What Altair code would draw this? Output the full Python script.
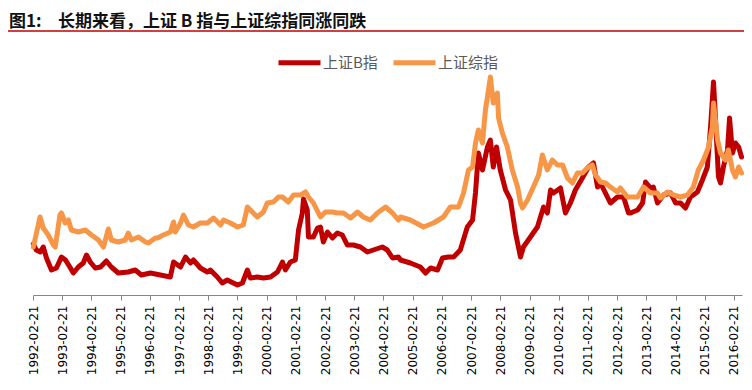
import altair as alt
import pandas as pd

# ---- text ----
title_no = "图1:"
title_text = "长期来看，上证 B 指与上证综指同涨同跌"
series_names = ["上证B指", "上证综指"]
series_colors = ["#C00000", "#F79646"]

# ---- 上证B指 (decimal year, relative level) ----
b_years = [1992.15, 1992.25, 1992.39, 1992.49, 1992.60, 1992.77, 1992.94, 1993.11, 1993.25, 1993.42,
           1993.52, 1993.69, 1993.86, 1993.97, 1994.10, 1994.27, 1994.45, 1994.65, 1994.82, 1995.06,
           1995.40, 1995.64, 1995.85, 1996.16, 1996.50, 1996.84, 1996.95, 1997.19, 1997.36, 1997.53,
           1997.63, 1997.87, 1998.11, 1998.21, 1998.45, 1998.62, 1998.79, 1999.14, 1999.31, 1999.48,
           1999.58, 1999.82, 2000.03, 2000.27, 2000.51, 2000.68, 2000.78, 2000.95, 2001.12, 2001.23,
           2001.36, 2001.40, 2001.53, 2001.57, 2001.74, 2001.88, 2001.98, 2002.08, 2002.22, 2002.39,
           2002.56, 2002.73, 2002.90, 2003.11, 2003.35, 2003.59, 2003.79, 2004.10, 2004.27, 2004.45,
           2004.65, 2004.72, 2005.06, 2005.40, 2005.58, 2005.75, 2005.99, 2006.16, 2006.36, 2006.54,
           2006.77, 2007.01, 2007.19, 2007.29, 2007.39, 2007.53, 2007.70, 2007.80, 2007.90, 2008.01,
           2008.14, 2008.32, 2008.49, 2008.66, 2008.83, 2008.93, 2009.17, 2009.41, 2009.62, 2009.75,
           2009.86, 2009.96, 2010.20, 2010.37, 2010.54, 2010.71, 2010.95, 2011.16, 2011.33, 2011.47,
           2011.57, 2011.74, 2011.91, 2012.15, 2012.36, 2012.53, 2012.60, 2012.84, 2013.01, 2013.11,
           2013.28, 2013.38, 2013.52, 2013.73, 2013.97, 2014.14, 2014.31, 2014.48, 2014.65, 2014.89,
           2015.06, 2015.23, 2015.34, 2015.44, 2015.51, 2015.61, 2015.68, 2015.78, 2015.92, 2015.99,
           2016.09, 2016.19, 2016.30, 2016.40]
b_values = [51, 45, 43, 48, 37, 25, 27, 38, 35, 27,
            22, 28, 32, 40, 33, 27, 28, 34, 28, 22,
            23, 25, 20, 22, 20, 18, 33, 28, 38, 32,
            35, 27, 23, 25, 18, 12, 15, 10, 12, 25,
            17, 18, 17, 18, 23, 33, 25, 33, 35, 65,
            82, 96, 85, 58, 58, 67, 68, 53, 63, 57,
            62, 60, 50, 50, 48, 43, 45, 48, 45, 37,
            38, 35, 32, 28, 22, 27, 25, 37, 38, 38,
            45, 68, 75, 102, 142, 125, 148, 155, 128, 148,
            125, 105, 95, 62, 38, 48, 58, 68, 88, 82,
            105, 102, 107, 82, 92, 105, 117, 128, 132, 108,
            112, 102, 92, 98, 98, 82, 82, 85, 92, 113,
            107, 108, 92, 100, 102, 92, 92, 87, 98, 103,
            115, 128, 168, 213, 175, 118, 112, 128, 145, 177,
            142, 152, 148, 138]

# ---- 上证综指 ----
c_years = [1992.15, 1992.38, 1992.49, 1992.66, 1992.84, 1992.90, 1993.06, 1993.11, 1993.24, 1993.35,
           1993.45, 1993.69, 1993.93, 1994.14, 1994.38, 1994.55, 1994.72, 1994.82, 1995.06, 1995.30,
           1995.40, 1995.51, 1995.75, 1995.99, 1996.09, 1996.33, 1996.40, 1996.60, 1996.84, 1996.95,
           1997.01, 1997.19, 1997.29, 1997.46, 1997.63, 1997.87, 1998.11, 1998.32, 1998.56, 1998.66,
           1998.90, 1999.14, 1999.34, 1999.48, 1999.58, 1999.82, 2000.03, 2000.16, 2000.37, 2000.54,
           2000.68, 2000.88, 2001.06, 2001.30, 2001.47, 2001.57, 2001.74, 2001.98, 2002.15, 2002.39,
           2002.56, 2002.77, 2003.01, 2003.25, 2003.45, 2003.69, 2003.93, 2004.21, 2004.45, 2004.65,
           2004.72, 2005.06, 2005.51, 2005.85, 2006.19, 2006.43, 2006.71, 2006.88, 2007.05, 2007.19,
           2007.29, 2007.39, 2007.53, 2007.63, 2007.70, 2007.80, 2007.90, 2008.04, 2008.08, 2008.21,
           2008.38, 2008.55, 2008.73, 2008.83, 2008.90, 2009.07, 2009.27, 2009.45, 2009.58, 2009.75,
           2009.92, 2010.10, 2010.27, 2010.44, 2010.61, 2010.78, 2010.95, 2011.12, 2011.29, 2011.40,
           2011.57, 2011.74, 2011.91, 2012.15, 2012.25, 2012.49, 2012.84, 2013.04, 2013.28, 2013.52,
           2013.62, 2013.86, 2014.07, 2014.31, 2014.55, 2014.75, 2014.92, 2015.10, 2015.27, 2015.40,
           2015.44, 2015.58, 2015.68, 2015.85, 2015.95, 2016.09, 2016.19, 2016.30, 2016.40]
c_values = [48, 78, 67, 60, 50, 48, 80, 82, 72, 75,
            65, 63, 65, 60, 55, 48, 66, 55, 53, 55,
            62, 55, 58, 53, 52, 57, 57, 60, 63, 73,
            63, 72, 80, 70, 68, 72, 72, 77, 70, 75,
            72, 68, 70, 88, 85, 78, 83, 92, 93, 98,
            98, 93, 100, 100, 103, 98, 92, 78, 83, 83,
            82, 82, 77, 83, 78, 75, 82, 88, 82, 75,
            78, 75, 68, 72, 78, 88, 88, 102, 125, 128,
            152, 165, 152, 185, 198, 218, 192, 202, 177, 162,
            148, 125, 108, 92, 87, 95, 108, 120, 140, 125,
            135, 130, 130, 117, 112, 122, 122, 127, 130, 120,
            113, 112, 108, 103, 107, 98, 98, 108, 102, 102,
            97, 103, 100, 98, 100, 108, 125, 135, 148, 168,
            192, 155, 142, 135, 145, 125, 118, 128, 122]

tick_years = list(range(1992, 2017))


def to_ts(y):
    year = int(y)
    start = pd.Timestamp(year=year, month=1, day=1)
    end = pd.Timestamp(year=year + 1, month=1, day=1)
    return start + (end - start) * (y - year)


df = pd.concat([
    pd.DataFrame({"date": [to_ts(v) for v in b_years], "value": b_values, "series": series_names[0]}),
    pd.DataFrame({"date": [to_ts(v) for v in c_years], "value": c_values, "series": series_names[1]}),
], ignore_index=True)

x_enc = alt.X(
    "date:T",
    scale=alt.Scale(domain=[alt.DateTime(year=1992, month=2, date=21),
                            alt.DateTime(year=2016, month=6, date=1)]),
    axis=alt.Axis(
        title=None,
        values=[alt.DateTime(year=y, month=2, date=21) for y in tick_years],
        format="%Y-%m-%d",
        labelAngle=-90,
        labelFont="DejaVu Sans",
        labelFontSize=12,
        labelColor="#000000",
        labelPadding=5,
        labelOverlap=False,
        labelFlush=False,
        labelBound=False,
        tickSize=5,
        tickColor="#868686",
        domainColor="#868686",
        grid=False,
    ),
)
y_enc = alt.Y("value:Q", scale=alt.Scale(domain=[0, 230], nice=False, zero=True), axis=None)
color_enc = alt.Color(
    "series:N",
    scale=alt.Scale(domain=series_names, range=series_colors),
    legend=alt.Legend(
        title=None,
        orient="none",
        legendX=243,
        legendY=-26,
        direction="horizontal",
        symbolType="stroke",
        symbolSize=1764,
        symbolStrokeWidth=5,
        labelFont="Noto Sans CJK SC",
        labelFontSize=15,
        labelColor="#595959",
        labelOffset=0,
        columnPadding=5,
        padding=0,
    ),
)

base = alt.Chart(df)
red = base.transform_filter(alt.datum.series == series_names[0]).mark_line(
    strokeWidth=5, strokeJoin="round", strokeCap="round").encode(x=x_enc, y=y_enc, color=color_enc)
orange = base.transform_filter(alt.datum.series == series_names[1]).mark_line(
    strokeWidth=5, strokeJoin="round", strokeCap="round").encode(x=x_enc, y=y_enc, color=color_enc)

t1 = alt.Chart(pd.DataFrame({"t": [title_no]})).mark_text(
    font="Noto Sans CJK SC", fontSize=17, fontWeight="bold", align="left", baseline="alphabetic",
    color="#111111").encode(x=alt.value(-24), y=alt.value(-38), text="t:N")
t2 = alt.Chart(pd.DataFrame({"t": [title_text]})).mark_text(
    font="Noto Sans CJK SC", fontSize=17, fontWeight="bold", align="left", baseline="alphabetic",
    color="#111111").encode(x=alt.value(25), y=alt.value(-38), text="t:N")
underline = alt.Chart(pd.DataFrame({"a": [0]})).mark_rule(color="#C00000", strokeWidth=1.5).encode(
    x=alt.value(-25), x2=alt.value(711), y=alt.value(-34))

chart = alt.layer(underline, t1, t2, red, orange).properties(
    width=709,
    height=230,
    padding={"left": 25, "top": 57, "right": 2, "bottom": 80},
    autosize=alt.AutoSizeParams(type="none"),
    background="white",
).configure_view(stroke=None)

chart.save("out.html", embed_options={"renderer": "svg", "actions": False})
